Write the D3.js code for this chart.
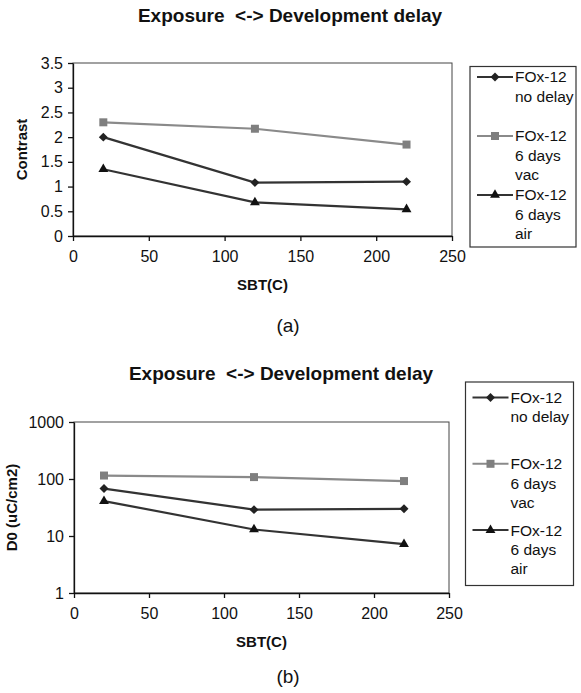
<!DOCTYPE html>
<html>
<head>
<meta charset="utf-8">
<script src="https://cdn.jsdelivr.net/npm/d3@7"></script>
<style>
body { margin: 0; background: #fff; }
text { font-family: "Liberation Sans", Arial, sans-serif; fill: #111; }
</style>
</head>
<body>
<div id="chart"></div>
<script>
// data
var sbt = [20, 120, 220];
var contrastNoDelay = [2.0, 1.08, 1.10];
var contrastVac = [2.3, 2.17, 1.85];
var contrastAir = [1.35, 0.68, 0.54];
var d0NoDelay = [68, 29, 30];
var d0Vac = [115, 108, 92];
var d0Air = [41, 13, 7.2];

var seriesLabels = [
    ["FOx-12", "no delay"],
    ["FOx-12", "6 days", "vac"],
    ["FOx-12", "6 days", "air"]
];
var xTicks = [0, 50, 100, 150, 200, 250];
var contrastTicks = [0, 0.5, 1, 1.5, 2, 2.5, 3, 3.5];
var d0Ticks = [1, 10, 100, 1000];

var chartTitle = "Exposure  <-> Development delay";
var xLabel = "SBT(C)";

// series styles
var styles = [
    {line: "#333", fill: "#222", symbol: "diamond"},
    {line: "#8a8a8a", fill: "#7f7f7f", symbol: "square"},
    {line: "#333", fill: "#111", symbol: "triangle"}
];

var svg = d3.select("#chart").append("svg")
            .attr("width", 581)
            .attr("height", 693);

function markerPath(kind) {
    if (kind == "square") return d3.symbol().type(d3.symbolSquare).size(64)();
    if (kind == "diamond") return d3.symbol().type(d3.symbolSquare).size(40)();
    return d3.symbol().type(d3.symbolTriangle).size(42)();
}

function addMarker(g, kind, x, y, st) {
    g.append("path")
     .attr("d", markerPath(kind))
     .attr("transform", "translate(" + x + "," + y + ")" + (kind == "diamond" ? " rotate(45)" : ""))
     .attr("fill", st.fill);
}

function drawPanel(p) {
    var xScale = d3.scaleLinear()
                   .domain([0, 250])
                   .range([p.left, p.right]);
    var yScale = p.log ? d3.scaleLog().domain([1, 1000]).range([p.bottom, p.top])
                       : d3.scaleLinear().domain([0, 3.5]).range([p.bottom, p.top]);

    // frame
    svg.append("rect")
       .attr("x", p.left).attr("y", p.top)
       .attr("width", p.right - p.left).attr("height", p.bottom - p.top)
       .attr("fill", "none").attr("stroke", "#444").attr("stroke-width", 1);

    var xAxis = svg.append("g")
                   .attr("transform", "translate(0," + p.bottom + ")")
                   .call(d3.axisBottom(xScale).tickValues(xTicks).tickSize(5).tickSizeOuter(0).tickPadding(10));
    var yAxis = svg.append("g")
                   .attr("transform", "translate(" + p.left + ",0)")
                   .call(d3.axisLeft(yScale).tickValues(p.ticks).tickSize(5).tickSizeOuter(0).tickPadding(5)
                           .tickFormat(d3.format("")));
    [xAxis, yAxis].forEach(function(a) {
        a.selectAll("path, line").attr("stroke", "#111").attr("stroke-width", 1.3);
        a.selectAll("text").style("font-size", "16px").attr("fill", "#111");
    });

    // lines and markers
    p.series.forEach(function(vals, i) {
        var st = styles[i];
        var pts = sbt.map(function(x, j) { return [x, vals[j]]; });
        var lineGen = d3.line()
                        .x(function(d) { return xScale(d[0]); })
                        .y(function(d) { return yScale(d[1]); });
        svg.append("path")
           .attr("d", lineGen(pts))
           .attr("stroke", st.line)
           .attr("stroke-width", 2.2)
           .attr("fill", "none");
        pts.forEach(function(d) {
            addMarker(svg, st.symbol, xScale(d[0]), yScale(d[1]), st);
        });
    });

    // title
    svg.append("text")
       .attr("x", p.titleX).attr("y", p.titleY)
       .attr("text-anchor", "middle")
       .attr("dy", "0.35em")
       .style("font-size", "19px")
       .style("font-weight", "bold")
       .style("white-space", "pre")
       .text(chartTitle);

    // x axis label
    svg.append("text")
       .attr("x", (p.left + p.right) / 2).attr("y", p.bottom + 49)
       .attr("text-anchor", "middle")
       .attr("dy", "0.35em")
       .style("font-size", "15px")
       .style("font-weight", "bold")
       .text(xLabel);

    // y axis label
    svg.append("text")
       .attr("transform", "translate(" + p.yLabelX + "," + ((p.top + p.bottom) / 2) + ") rotate(-90)")
       .attr("text-anchor", "middle")
       .attr("dy", "0.35em")
       .style("font-size", "15px")
       .style("font-weight", "bold")
       .text(p.yLabel);

    // legend
    var lg = p.legend;
    svg.append("rect")
       .attr("x", lg.x).attr("y", lg.y)
       .attr("width", lg.w).attr("height", lg.h)
       .attr("fill", "none").attr("stroke", "#333").attr("stroke-width", 1.2);
    seriesLabels.forEach(function(lines, i) {
        var st = styles[i];
        var y0 = lg.first + i * lg.step;
        svg.append("line")
           .attr("x1", lg.x + 7).attr("x2", lg.x + 43)
           .attr("y1", y0).attr("y2", y0)
           .attr("stroke", st.line).attr("stroke-width", 2);
        addMarker(svg, st.symbol, lg.x + 25, y0, st);
        lines.forEach(function(t, k) {
            svg.append("text")
               .attr("x", lg.x + 45).attr("y", y0 + k * 19.4)
               .attr("dy", "0.35em")
               .style("font-size", "15.5px")
               .text(t);
        });
    });

    // panel tag
    svg.append("text")
       .attr("x", 288).attr("y", p.tagY)
       .attr("text-anchor", "middle")
       .attr("dy", "0.35em")
       .style("font-size", "19px")
       .text(p.tag);
}

drawPanel({
    left: 73, right: 452, top: 63, bottom: 236,
    ticks: contrastTicks, log: false,
    series: [contrastNoDelay, contrastVac, contrastAir],
    yLabel: "Contrast", yLabelX: 22,
    titleX: 290, titleY: 15,
    legend: {x: 470, y: 66.5, w: 106, h: 180.5, first: 77, step: 59},
    tag: "(a)", tagY: 325
});

drawPanel({
    left: 74, right: 449, top: 422, bottom: 593,
    ticks: d0Ticks, log: true,
    series: [d0NoDelay, d0Vac, d0Air],
    yLabel: "D0 (uC/cm2)", yLabelX: 12,
    titleX: 281, titleY: 373,
    legend: {x: 465.5, y: 382, w: 108, h: 203.5, first: 397.5, step: 66.3},
    tag: "(b)", tagY: 676
});
</script>
</body>
</html>
